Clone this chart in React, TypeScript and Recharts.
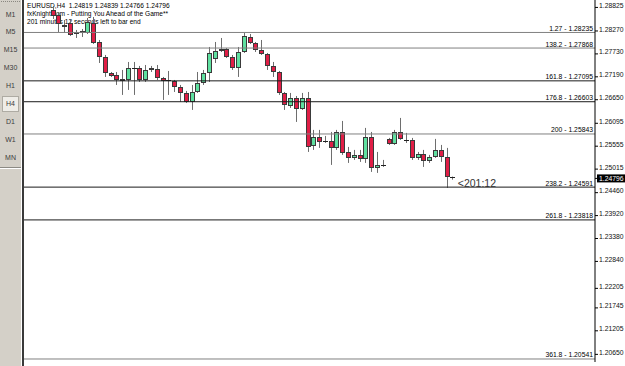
import React from 'react'
import { ComposedChart, Bar, XAxis, YAxis, ReferenceLine, ReferenceDot } from 'recharts'

// EURUSD H4 candles, oldest first; the last one is the bar still forming
const opens = [
  1.28765, 1.28647, 1.28364, 1.28458, 1.28199, 1.2827, 1.28223, 1.28458, 1.28011, 1.27658,
  1.27281, 1.27234, 1.27092, 1.27116, 1.27399, 1.27399, 1.27116, 1.27352, 1.27375, 1.27163,
  1.27116, 1.27092, 1.26951, 1.2681, 1.26598, 1.26833, 1.27045, 1.27281, 1.27611, 1.27799,
  1.27846, 1.27658, 1.27399, 1.27775, 1.28129, 1.27987, 1.27823, 1.27728, 1.27446, 1.27304,
  1.2681, 1.26504, 1.26692, 1.26433, 1.26692, 1.25562, 1.25774, 1.25679, 1.25679, 1.25515,
  1.25891, 1.2542, 1.25279, 1.2535, 1.25256, 1.25774, 1.25044, 1.25114, 1.25727, 1.25609,
  1.25891, 1.25703, 1.25703, 1.25279, 1.25373, 1.25208, 1.25303, 1.25468, 1.25303, 1.24819,
]
const highs = [
  1.28859, 1.28717, 1.28529, 1.28529, 1.28294, 1.28317, 1.28576, 1.286, 1.28058, 1.27705,
  1.27304, 1.27304, 1.27352, 1.2754, 1.2754, 1.27446, 1.27469, 1.27446, 1.27469, 1.27187,
  1.27328, 1.27116, 1.26998, 1.26857, 1.26998, 1.27304, 1.27352, 1.27893, 1.28011, 1.28105,
  1.2787, 1.27705, 1.27893, 1.28223, 1.28199, 1.28011, 1.28058, 1.27752, 1.2754, 1.27328,
  1.26833, 1.2681, 1.26739, 1.2681, 1.26833, 1.25939, 1.25939, 1.25797, 1.25891, 1.25939,
  1.2615, 1.25538, 1.25468, 1.25468, 1.25986, 1.25891, 1.2542, 1.25232, 1.2575, 1.25939,
  1.26221, 1.25868, 1.2575, 1.2542, 1.25468, 1.2535, 1.25727, 1.25585, 1.25515, 1.24839,
]
const lows = [
  1.28553, 1.28246, 1.28223, 1.28152, 1.28105, 1.28129, 1.28199, 1.27964, 1.27516, 1.27187,
  1.27187, 1.26998, 1.26763, 1.26881, 1.26763, 1.27069, 1.27069, 1.27304, 1.27116, 1.26645,
  1.26763, 1.26833, 1.26598, 1.26574, 1.2641, 1.2681, 1.26998, 1.27069, 1.27516, 1.27775,
  1.27634, 1.27352, 1.27187, 1.27752, 1.27964, 1.27775, 1.27705, 1.27352, 1.27187, 1.26763,
  1.2641, 1.26457, 1.26127, 1.2641, 1.2542, 1.25468, 1.25515, 1.25632, 1.25114, 1.25468,
  1.2535, 1.25161, 1.25232, 1.25185, 1.25161, 1.24949, 1.24926, 1.25067, 1.25585, 1.25585,
  1.25703, 1.25632, 1.25232, 1.25232, 1.25067, 1.25161, 1.25279, 1.25185, 1.24573, 1.24766,
]
const closes = [
  1.28623, 1.28435, 1.28411, 1.28176, 1.28246, 1.28223, 1.28482, 1.27987, 1.27658, 1.27281,
  1.2721, 1.27116, 1.2714, 1.27399, 1.27375, 1.27116, 1.27352, 1.27399, 1.27163, 1.27092,
  1.27092, 1.26951, 1.2681, 1.26598, 1.26833, 1.27045, 1.27281, 1.27752, 1.27799, 1.27846,
  1.27658, 1.27399, 1.27775, 1.28152, 1.27987, 1.27823, 1.27728, 1.27446, 1.27304, 1.2681,
  1.26527, 1.26692, 1.26433, 1.26692, 1.25538, 1.25774, 1.25656, 1.25656, 1.25515, 1.25891,
  1.25397, 1.25279, 1.2535, 1.25256, 1.25774, 1.25044, 1.25114, 1.25091, 1.25609, 1.25891,
  1.25727, 1.25679, 1.25279, 1.25373, 1.25208, 1.25303, 1.25468, 1.25303, 1.24819, 1.24796,
]

// fibo expansion levels drawn on the chart
const fibLevels = ['1.27', '138.2', '161.8', '176.8', '200', '238.2', '261.8', '361.8']
const fibPrices = [1.28235, 1.27868, 1.27095, 1.26603, 1.25843, 1.24591, 1.23818, 1.20541]

const priceTicks = [
  1.28825, 1.2827, 1.2773, 1.2719, 1.2665, 1.26095, 1.25555, 1.25015,
  1.2446, 1.2392, 1.2338, 1.2284, 1.22205, 1.21745, 1.21205, 1.2065,
]

const periods = ['M1', 'M5', 'M15', 'M30', 'H1', 'H4', 'D1', 'W1', 'MN']
const activePeriod = 'H4'
const symbol = 'EURUSD,H4'
const headerLines = [
  'fxKnight.com - Putting You Ahead of the Game**',
  '201 minutes 12 seconds left to bar end',
]
const timerText = '<201:12'

const BULL = '#5fe0a0'
const BEAR = '#e01e46'
const FONT = '"Liberation Sans", Arial, sans-serif'
const FIB_DARK = ['161.8', '176.8', '238.2', '261.8']

const candles = opens.map((o, i) => ({ i, open: o, high: highs[i], low: lows[i], close: closes[i] }))
const last = candles[candles.length - 1]

function Candle(props: any) {
  const { x, y, width, height, payload } = props
  if (!payload || x == null || y == null) return null
  const top = Math.min(y, y + height)
  const h = Math.abs(height)
  const range = payload.high - payload.low || 1e-9
  const py = (p: number) => top + ((payload.high - p) / range) * h
  const c = Math.round(x + width / 2)
  const bull = payload.close >= payload.open
  const bt = Math.round(py(Math.max(payload.open, payload.close)))
  const bb = Math.round(py(Math.min(payload.open, payload.close)))
  return (
    <g>
      <line x1={c + 0.5} x2={c + 0.5} y1={top} y2={top + h} stroke="#6e6e6e" strokeWidth={1} />
      {bb - bt < 2 ? (
        <line x1={c - 2} x2={c + 3} y1={bt + 0.5} y2={bt + 0.5} stroke="#222" strokeWidth={1} />
      ) : (
        <rect x={c - 1.5} y={bt + 0.5} width={4} height={bb - bt - 1} fill={bull ? BULL : BEAR} stroke="#3a3a3a" strokeWidth={1} />
      )}
    </g>
  )
}

function PriceTick(props: any) {
  const { x, y, payload } = props
  const v = payload.value
  if (v === last.close) {
    return (
      <g>
        <rect x={x - 2} y={y - 4} width={28} height={8} fill="#000" />
        <text x={x} y={y} dy={2.4} fill="#fff" fontSize={6.8} fontFamily={FONT}>{v.toFixed(5)}</text>
      </g>
    )
  }
  return (
    <text x={x} y={y} dy={0.6} fill="#111" fontSize={6.8} fontFamily={FONT}>{v.toFixed(5)}</text>
  )
}

function FibLabel(props: any) {
  const { viewBox, text } = props
  if (!viewBox) return null
  return (
    <text x={viewBox.x + viewBox.width - 2} y={viewBox.y - 1.5} textAnchor="end" fill="#000" fontSize={6.8} fontFamily={FONT}>
      {text}
    </text>
  )
}

function TimerLabel(props: any) {
  const { viewBox } = props
  if (!viewBox) return null
  return (
    <text x={viewBox.x + 6} y={viewBox.y + 9.5} fill="#333" fontSize={10.5} fontFamily={FONT}>
      {timerText}
    </text>
  )
}

function Sidebar() {
  return (
    <div style={{ position: 'absolute', left: 0, top: 0, width: 21, height: 366, background: '#d4d0c8' }}>
      <div style={{ position: 'absolute', left: 1, right: 1, top: 1, borderTop: '1px dotted #8a8780' }} />
      {periods.map((p, k) => (
        <div
          key={p}
          style={{
            position: 'absolute', left: 2, width: 17, top: 6 + k * 17.9, height: 16, boxSizing: 'border-box',
            display: 'flex', alignItems: 'center', justifyContent: 'center',
            fontSize: 7, fontFamily: FONT, color: '#3c3c3c',
            ...(p === activePeriod ? { background: '#efede8', border: '1px solid #aeaba3' } : {}),
          }}
        >
          {p}
        </div>
      ))}
      <div style={{ position: 'absolute', left: 0, right: 0, top: 167, height: 0, borderTop: '1px solid #8c8a84', borderBottom: '1px solid #fff' }} />
    </div>
  )
}

export default function App() {
  const header = `${symbol}  ${last.open.toFixed(5)} ${last.high.toFixed(5)} ${last.low.toFixed(5)} ${last.close.toFixed(5)}`
  return (
    <div style={{ position: 'fixed', left: 0, top: 0, width: 625, height: 366, background: '#fff', overflow: 'hidden' }}>
      <Sidebar />
      <div style={{ position: 'absolute', left: 21, top: 0, width: 1, height: 366, background: '#fff' }} />
      <div style={{ position: 'absolute', left: 22, top: 0, width: 2, height: 366, background: '#3a3a3a' }} />
      <div style={{ position: 'absolute', left: 27, top: 2, fontSize: 6.6, lineHeight: '8px', fontFamily: FONT, color: '#000', whiteSpace: 'pre' }}>
        <div>{header}</div>
        {headerLines.map((t) => <div key={t}>{t}</div>)}
      </div>
      <div style={{ position: 'absolute', left: 24, top: 0 }}>
        <ComposedChart width={601} height={366} data={candles} margin={{ top: 0, right: 0, bottom: 4, left: 0 }}>
          <XAxis dataKey="i" type="number" domain={[-5, 93.55]} allowDataOverflow hide />
          <YAxis
            orientation="right"
            width={30}
            type="number"
            domain={[1.2047, 1.29]}
            allowDataOverflow
            ticks={[...priceTicks, last.close]}
            interval={0}
            tickSize={3}
            tickMargin={1}
            axisLine={{ stroke: '#000' }}
            tickLine={{ stroke: '#000' }}
            tick={<PriceTick />}
          />
          {fibPrices.map((p, k) => (
            <ReferenceLine
              key={fibLevels[k]}
              y={p}
              stroke={FIB_DARK.includes(fibLevels[k]) ? '#1a1a1a' : '#808080'}
              strokeWidth={1}
              label={<FibLabel text={`${fibLevels[k]} - ${p.toFixed(5)}`} />}
            />
          ))}
          <Bar
            dataKey={(d: any) => [d.low, d.high]}
            barSize={5}
            isAnimationActive={false}
            shape={(p: any) => <Candle {...p} />}
          />
          <ReferenceDot x={last.i} y={last.close} r={1} fill="none" stroke="none" label={<TimerLabel />} />
        </ComposedChart>
      </div>
    </div>
  )
}
